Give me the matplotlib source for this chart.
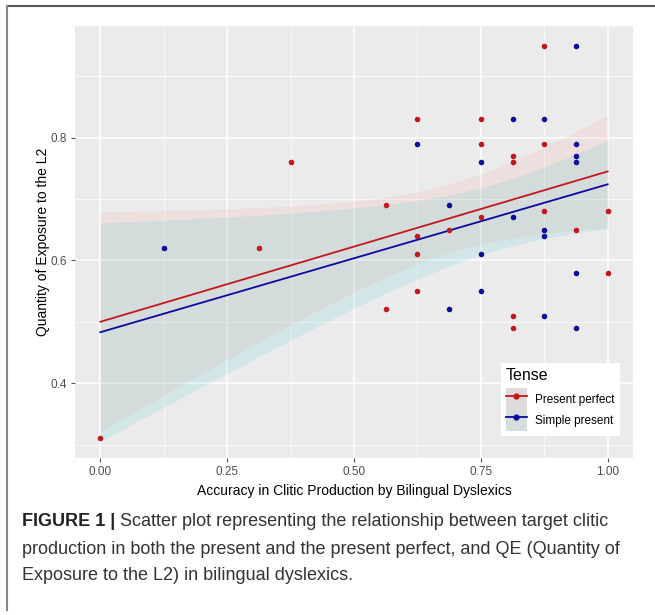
import numpy as np
import matplotlib
matplotlib.use("Agg")
import matplotlib.pyplot as plt
from matplotlib.lines import Line2D
from matplotlib.patches import Patch

plt.rcParams['font.family'] = ['Liberation Sans', 'DejaVu Sans']

# data
perfect_x = [0.0, 0.3125, 0.375, 0.5625, 0.5625, 0.625, 0.625, 0.625, 0.625, 0.6875,
             0.75, 0.75, 0.75, 0.8125, 0.8125, 0.8125, 0.8125, 0.875, 0.875, 0.875,
             0.9375, 1.0, 1.0]
perfect_y = [0.31, 0.62, 0.76, 0.69, 0.52, 0.83, 0.64, 0.61, 0.55, 0.65,
             0.83, 0.79, 0.67, 0.77, 0.76, 0.51, 0.49, 0.95, 0.79, 0.68,
             0.65, 0.68, 0.58]
simple_x = [0.125, 0.625, 0.6875, 0.6875, 0.75, 0.75, 0.75, 0.8125, 0.8125, 0.875,
            0.875, 0.875, 0.875, 0.9375, 0.9375, 0.9375, 0.9375, 0.9375, 0.9375]
simple_y = [0.62, 0.79, 0.69, 0.52, 0.76, 0.61, 0.55, 0.83, 0.67, 0.83,
            0.65, 0.64, 0.51, 0.95, 0.79, 0.77, 0.76, 0.58, 0.49]

series_names = ['Present perfect', 'Simple present']
point_colors = ['#C4161C', '#0A0A9E']
ribbon_colors = ['#F8766D', '#00BFC4']

# fitted lines as drawn in the figure: intercept, slope
fit_intercept = [0.500, 0.483]
fit_slope = [0.245, 0.241]
# confidence band half width at x=0 and x=1, and x where it is narrowest
band_hw0 = [0.179, 0.178]
band_hw1 = [0.092, 0.0725]
band_center = [0.70, 0.78]

x_ticks = [0.0, 0.25, 0.5, 0.75, 1.0]
x_ticklabels = ['0.00', '0.25', '0.50', '0.75', '1.00']
y_ticks = [0.4, 0.6, 0.8]
y_ticklabels = ['0.4', '0.6', '0.8']


def band(i, grid):
    m = band_center[i]
    # hw^2 = a + b (x - m)^2, the usual lm confidence shape
    b = (band_hw0[i] ** 2 - band_hw1[i] ** 2) / (m ** 2 - (1 - m) ** 2)
    a = band_hw1[i] ** 2 - b * (1 - m) ** 2
    fit = fit_intercept[i] + fit_slope[i] * grid
    hw = np.sqrt(a + b * (grid - m) ** 2)
    return fit, fit - hw, fit + hw


fig = plt.figure(figsize=(6.55, 6.15), dpi=100)
ax = fig.add_axes([75 / 655, 1 - 458 / 615, (633 - 75) / 655, (458 - 26) / 615])
ax.set_facecolor('#EBEBEB')

grid = np.linspace(0, 1, 101)
data = [(perfect_x, perfect_y), (simple_x, simple_y)]
for i in range(2):
    fit, lo, hi = band(i, grid)
    ax.fill_between(grid, lo, hi, color=ribbon_colors[i], alpha=0.1, lw=0, zorder=2)
for i, (xs, ys) in enumerate(data):
    ax.scatter(xs, ys, s=16, color=point_colors[i], lw=0, zorder=4)
for i in range(2):
    fit, lo, hi = band(i, grid)
    ax.plot(grid, fit, color=point_colors[i], lw=1.3, zorder=3)

ax.set_xlim(-0.05, 1.05)
ax.set_ylim(0.278, 0.982)
ax.set_xticks(x_ticks)
ax.set_xticklabels(x_ticklabels)
ax.set_yticks(y_ticks)
ax.set_yticklabels(y_ticklabels)
ax.set_xticks(np.arange(0.125, 1.0, 0.25), minor=True)
ax.set_yticks([0.3, 0.5, 0.7, 0.9], minor=True)
ax.grid(which='major', color='white', lw=1.1, zorder=1)
ax.grid(which='minor', color='white', lw=0.5, zorder=1)
ax.set_axisbelow(True)
for sp in ax.spines.values():
    sp.set_visible(False)
ax.tick_params(which='major', length=3, width=0.8, color='#555555',
               labelcolor='#4D4D4D', labelsize=8.5, pad=3)
ax.tick_params(which='minor', length=0)

ax.set_xlabel('Accuracy in Clitic Production by Bilingual Dyslexics', fontsize=10, labelpad=4)
ax.set_ylabel('Quantity of Exposure to the L2', fontsize=10, labelpad=0)

handles = []
for i in range(2):
    handles.append((Patch(facecolor='#E0E0E0', edgecolor='none'),
                    Patch(facecolor=ribbon_colors[i], alpha=0.05, edgecolor='none'),
                    Line2D([], [], color=point_colors[i], lw=1.3, marker='o', ms=3.5)))
leg = ax.legend(handles, series_names, title='Tense', loc='lower right',
                bbox_to_anchor=(0.977, 0.05), fontsize=8.5, title_fontsize=11.5,
                frameon=True, fancybox=False, edgecolor='none', facecolor='white',
                framealpha=1, handlelength=1.8, handleheight=2.4, borderpad=0.45,
                labelspacing=0.0, handletextpad=0.7, borderaxespad=0.0)
leg._legend_box.align = 'left'
leg._legend_box.sep = 4

# figure border (top and left)
fig.add_artist(Line2D([7 / 655, 1], [1 - 6 / 615, 1 - 6 / 615], color='#555555', lw=1.5))
fig.add_artist(Line2D([7 / 655, 7 / 655], [1 - 6 / 615, 1 - 610 / 615], color='#888888', lw=1.5))

# caption
fig.canvas.draw()
renderer = fig.canvas.get_renderer()
cap_size = 13
t1 = fig.text(22 / 655, 1 - 521 / 615, 'FIGURE 1 | ', fontsize=cap_size, fontweight='bold',
              va='center', color='#222222')
bb = t1.get_window_extent(renderer)
fig.text(bb.x1 / fig.bbox.width, 1 - 521 / 615,
         'Scatter plot representing the relationship between target clitic',
         fontsize=cap_size, va='center', color='#333333')
fig.text(22 / 655, 1 - 549 / 615,
         'production in both the present and the present perfect, and QE (Quantity of',
         fontsize=cap_size, va='center', color='#333333')
fig.text(22 / 655, 1 - 576 / 615,
         'Exposure to the L2) in bilingual dyslexics.',
         fontsize=cap_size, va='center', color='#333333')

fig.savefig('out.png', dpi=100)
